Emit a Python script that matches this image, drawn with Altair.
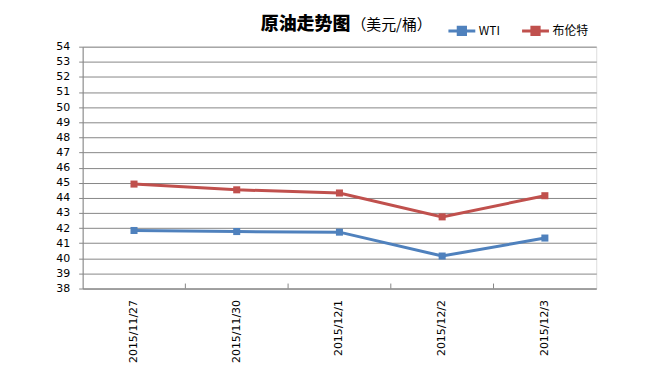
import altair as alt
import pandas as pd

dates = ["2015/11/27", "2015/11/30", "2015/12/1", "2015/12/2", "2015/12/3"]
wti = [41.84, 41.77, 41.73, 40.15, 41.34]
brent = [44.91, 44.53, 44.32, 42.74, 44.14]
series_names = ["WTI", "布伦特"]
series_colors = ["#4F81BD", "#C0504D"]
y_ticks = list(range(38, 55))
title_main = "原油走势图"
title_unit = "（美元/桶）"

rows = []
for d, v in zip(dates, wti):
    rows.append({"date": d, "series": series_names[0], "value": v})
for d, v in zip(dates, brent):
    rows.append({"date": d, "series": series_names[1], "value": v})
df = pd.DataFrame(rows)

W, H = 516, 243

xscale = alt.Scale(type="band", domain=dates, paddingInner=0, paddingOuter=0)
yscale = alt.Scale(domain=[38, 54], nice=False, zero=False)
cscale = alt.Scale(domain=series_names, range=series_colors)

lines = alt.Chart(df).mark_line(
    strokeWidth=3,
    point=alt.OverlayMarkDef(shape="square", size=50, filled=True, opacity=1),
).encode(
    x=alt.X("date:N", scale=xscale, sort=dates, title=None,
            axis=alt.Axis(labelAngle=-90, ticks=False, grid=False, domainColor="#868686",
                          labelFont="DejaVu Sans", labelFontSize=11, labelColor="#000000",
                          labelPadding=11)),
    y=alt.Y("value:Q", scale=yscale, title=None,
            axis=alt.Axis(values=y_ticks, grid=True, gridColor="#868686", domainColor="#868686",
                          tickColor="#868686", tickSize=4, labelPadding=9,
                          labelFont="DejaVu Sans", labelFontSize=11, labelColor="#000000")),
    color=alt.Color("series:N", scale=cscale, sort=series_names, title=None,
                    legend=alt.Legend(
                        orient="none", direction="horizontal", legendX=366, legendY=-31,
                        symbolType="M-1,0H1M-0.27,-0.27H0.27V0.27H-0.27Z",
                        symbolSize=729, symbolStrokeWidth=3, symbolOpacity=1,
                        labelFont="Noto Sans CJK SC", labelFontSize=12, labelColor="#000000",
                        labelOffset=2, columnPadding=15,
                    )),
)

tick_df = pd.DataFrame({"date": dates[1:]})
ticks = alt.Chart(tick_df).mark_rule(color="#868686", strokeWidth=1).encode(
    x=alt.X("date:N", scale=xscale, sort=dates, bandPosition=0),
    y=alt.value(H - 5),
    y2=alt.value(H),
)

tdf = pd.DataFrame({"main": [title_main], "unit": [title_unit]})
t1 = alt.Chart(tdf).mark_text(
    align="left", baseline="alphabetic", font="Noto Sans CJK SC", fontSize=18,
    fontWeight=900, color="#000000"
).encode(text="main:N", x=alt.value(179), y=alt.value(-17))
t2 = alt.Chart(tdf).mark_text(
    align="left", baseline="alphabetic", font="Noto Sans CJK SC", fontSize=15,
    color="#000000"
).encode(text="unit:N", x=alt.value(270), y=alt.value(-17))

chart = alt.layer(lines, ticks, t1, t2).properties(
    width=W, height=H,
    autosize=alt.AutoSizeParams(type="none"),
    padding={"left": 75, "top": 38, "right": 50, "bottom": 80},
).configure_view(stroke="#000000", strokeWidth=1).configure(background="#ffffff")

chart.save("out.html", embed_options={"renderer": "svg", "actions": False})
